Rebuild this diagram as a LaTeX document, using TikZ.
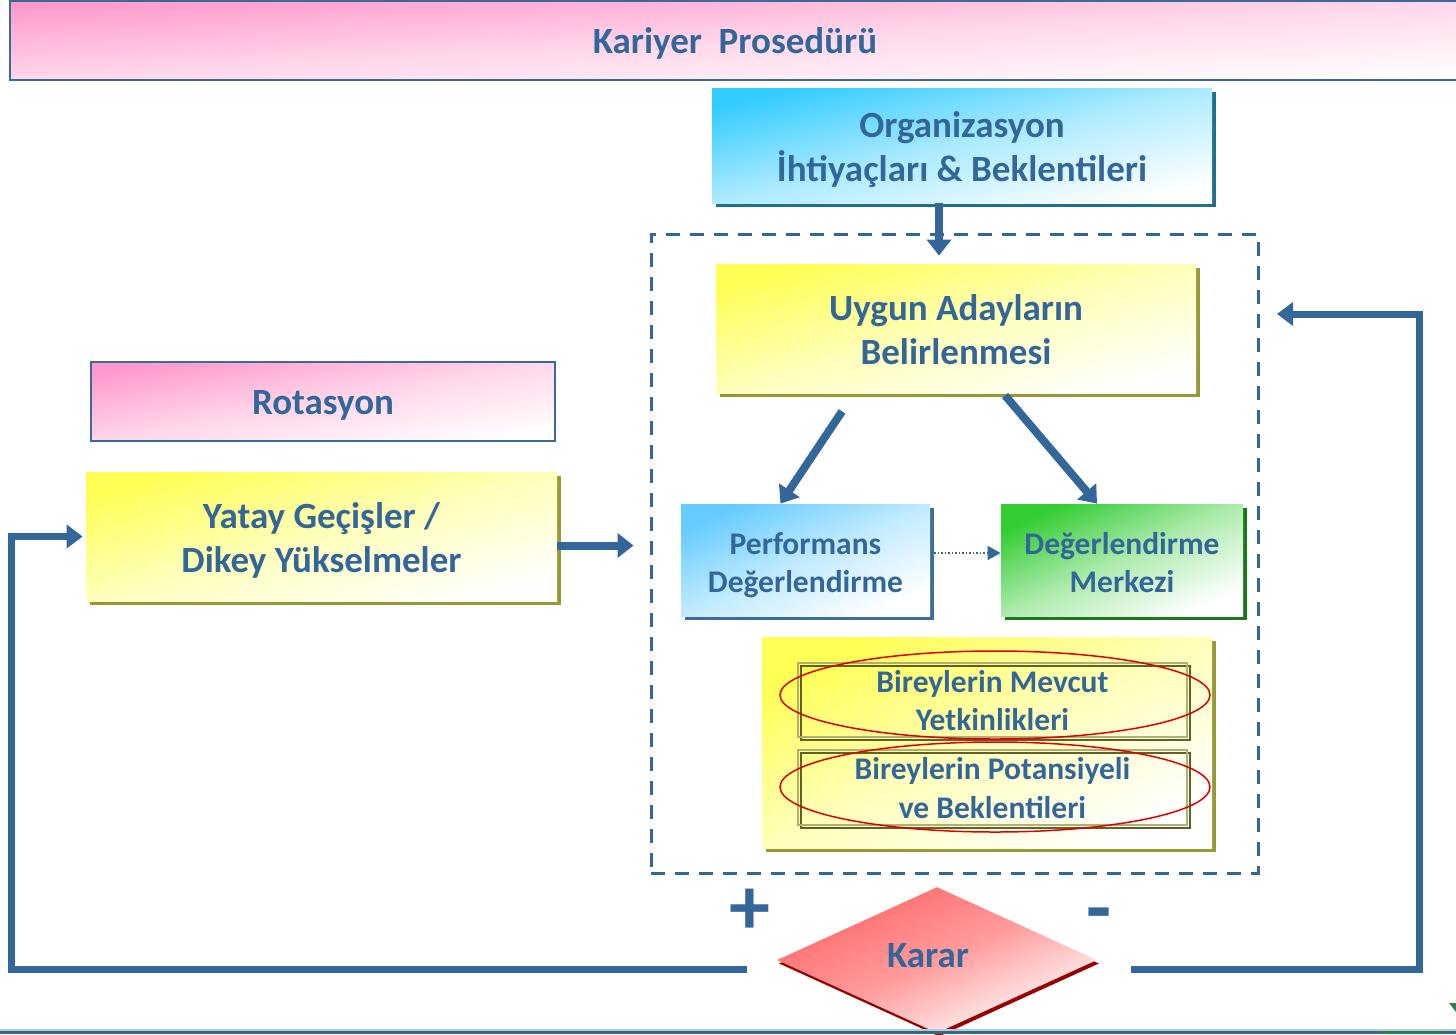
\documentclass[tikz,border=0pt]{standalone}
\usepackage{fontspec}
\setmainfont{Carlito}
\usetikzlibrary{arrows.meta,shapes.geometric,shadows}
\definecolor{SteelText}{HTML}{336699}
\definecolor{SteelEdge}{HTML}{3B6A94}
\definecolor{PinkTop}{HTML}{FF99CC}
\definecolor{CyanTop}{HTML}{33CCFF}
\definecolor{SkyTop}{HTML}{66CCFF}
\definecolor{LemonTop}{HTML}{FFFF55}
\definecolor{GrassTop}{HTML}{33CC33}
\definecolor{RoseTop}{HTML}{FF6666}
\definecolor{OliveEdge}{HTML}{999933}
\definecolor{OliveDark}{HTML}{60602A}
\definecolor{OliveLight}{HTML}{B0B070}
\definecolor{TealEdge}{HTML}{1F6F8F}
\definecolor{BlueEdge}{HTML}{3D6E99}
\definecolor{GreenEdge}{HTML}{1A7A1A}
\definecolor{RedEdge}{HTML}{990000}
\definecolor{RingRed}{HTML}{E00000}
\definecolor{BandLight}{HTML}{A8D0E0}
\definecolor{BandDark}{HTML}{3C6680}
\definecolor{BandGreen}{HTML}{2E7D4F}

\begin{document}
\begin{tikzpicture}[x=1pt, y=-1pt, thick,
    every node/.style={text=SteelText, font=\bfseries\fontsize{37}{44}\selectfont, align=center, inner sep=0pt},
    bigone/.style={text height=26pt, text depth=0pt},
    bigtwo/.style={text height=71pt, text depth=0pt},
    smalltwo/.style={font=\bfseries\fontsize{31.5}{38.5}\selectfont, text height=#1, text depth=0pt},
    fade/.style={top color=#1, bottom color=white, middle color=#1!40!white, shading angle=45},
    box/.style 2 args={fade=#1, general shadow={fill=#2, shadow xshift=4pt, shadow yshift=-4pt}},
    innerbox/.style={draw=OliveLight, line width=2.5pt, general shadow={draw=OliveDark, line width=2pt, shadow xshift=3pt, shadow yshift=-3pt}},
    ring/.style={ellipse, draw=RingRed, line width=1.5pt},
    arr/.style={draw=SteelText, line width=8pt, -{Triangle[length=16pt,width=24pt]}},
    fb/.style={draw=SteelText, line width=7pt, -{Triangle[length=16pt,width=23pt]}},
    dashbox/.style={draw=SteelText, line width=3pt, dash pattern=on 14pt off 10pt},
]
    \useasboundingbox (0,0) rectangle (1456,1034);

    % Title bar
    \node[fade=PinkTop, shading angle=3, draw=SteelEdge, line width=2.5pt, bigone, minimum width=1450pt, minimum height=79pt] (title) at (735,40.5) {Kariyer\ \ Prosedürü};

    % Dashed frame
    \node[dashbox, minimum width=607pt, minimum height=639pt] (frame) at (954.5,553.5) {};

    % Boxes
    \node[box={CyanTop}{TealEdge}, shading angle=13, bigtwo, minimum width=500pt, minimum height=115pt] (org) at (962,145.5) {Organizasyon\\İhtiyaçları \& Beklentileri};
    \node[box={LemonTop}{OliveEdge}, shading angle=15, bigtwo, minimum width=480pt, minimum height=129pt] (uygun) at (956,328.5) {Uygun Adayların\\Belirlenmesi};
    \node[fade=PinkTop, shading angle=10, draw=SteelEdge, line width=2pt, bigone, minimum width=464pt, minimum height=79pt] (rota) at (323,401.5) {Rotasyon};
    \node[box={LemonTop}{OliveEdge}, shading angle=15, bigtwo, minimum width=471pt, minimum height=129pt] (yatay) at (321.5,536.5) {Yatay Geçişler /\\Dikey Yükselmeler};
    \node[box={SkyTop}{BlueEdge}, shading angle=24, smalltwo=65.5pt, minimum width=249pt, minimum height=112pt] (perf) at (805.5,560) {Performans\\Değerlendirme};
    \node[box={GrassTop}{GreenEdge}, shading angle=25, smalltwo=65.5pt, minimum width=242pt, minimum height=112pt] (merkez) at (1122,560) {Değerlendirme\\Merkezi};
    \node[box={LemonTop}{OliveEdge}, shading angle=25, minimum width=450pt, minimum height=211pt] (birey) at (987,742.5) {};
    \node[innerbox, smalltwo=61.5pt, minimum width=389pt, minimum height=74pt] (mevcut) at (992.5,700) {Bireylerin Mevcut\\Yetkinlikleri};
    \node[innerbox, smalltwo=61.5pt, minimum width=389pt, minimum height=75pt] (potans) at (992.5,787.5) {Bireylerin Potansiyeli\\ve Beklentileri};
    \node[ring, minimum width=430pt, minimum height=88pt] (ring1) at (995,695) {};
    \node[ring, minimum width=430pt, minimum height=90pt] (ring2) at (995,787) {};

    % Decision
    \node[diamond, fade=RoseTop, middle color=RoseTop!65!white, shading angle=24, general shadow={fill=RedEdge, shadow xshift=2pt, shadow yshift=-3.5pt}, text height=24pt, text depth=10pt, minimum width=320pt, minimum height=146pt] (karar) at (937,960) {Karar\hspace*{18pt}};
    \node[font=\bfseries\fontsize{82}{82}\selectfont] (plus) at (750,912) {+};
    \node[font=\bfseries\fontsize{82}{82}\selectfont] (minus) at (1099,922) {-};

    % Arrows
    \draw[arr] ([xshift=-23pt]org.south) -- ([xshift=-17pt,yshift=8pt]uygun.north);
    \draw[arr] ([xshift=-114pt,yshift=-18pt]uygun.south) -- ([xshift=-25pt]perf.north);
    \draw[arr] ([xshift=49pt,yshift=-2pt]uygun.south) -- ([xshift=-25pt]merkez.north);
    \draw[draw=SteelText, dotted, line width=1.5pt, -{Triangle[length=13pt,width=14pt]}] ([xshift=4pt,yshift=7pt]perf.east) -- ([yshift=7pt]merkez.west);
    \coordinate (yout) at ([yshift=-9pt]yatay.east);
    \draw[arr, shorten >=16pt] (yout) -- (yout -| frame.west);

    % Feedback loops
    \coordinate (lfoot) at (747,969);
    \coordinate (lcorner) at (11,969);
    \draw[fb, shorten >=3pt] (lfoot) -- (lcorner) |- (yatay.west);
    \coordinate (rfoot) at (1131,969);
    \coordinate (rcorner) at (1419,969);
    \coordinate (rtip) at (1277,314);
    \draw[fb] (rfoot) -- (rcorner) |- (rtip);

    % Bottom band
    \fill[BandLight] (0,1029) rectangle (1456,1031);
    \fill[BandDark] (0,1031) rectangle (1456,1034);
    \fill[BandGreen] (1380,1031) rectangle (1442,1034);
    \fill[BandGreen] (1449,1003) -- (1456,1003) -- (1456,1012) -- cycle;
\end{tikzpicture}
\end{document}
